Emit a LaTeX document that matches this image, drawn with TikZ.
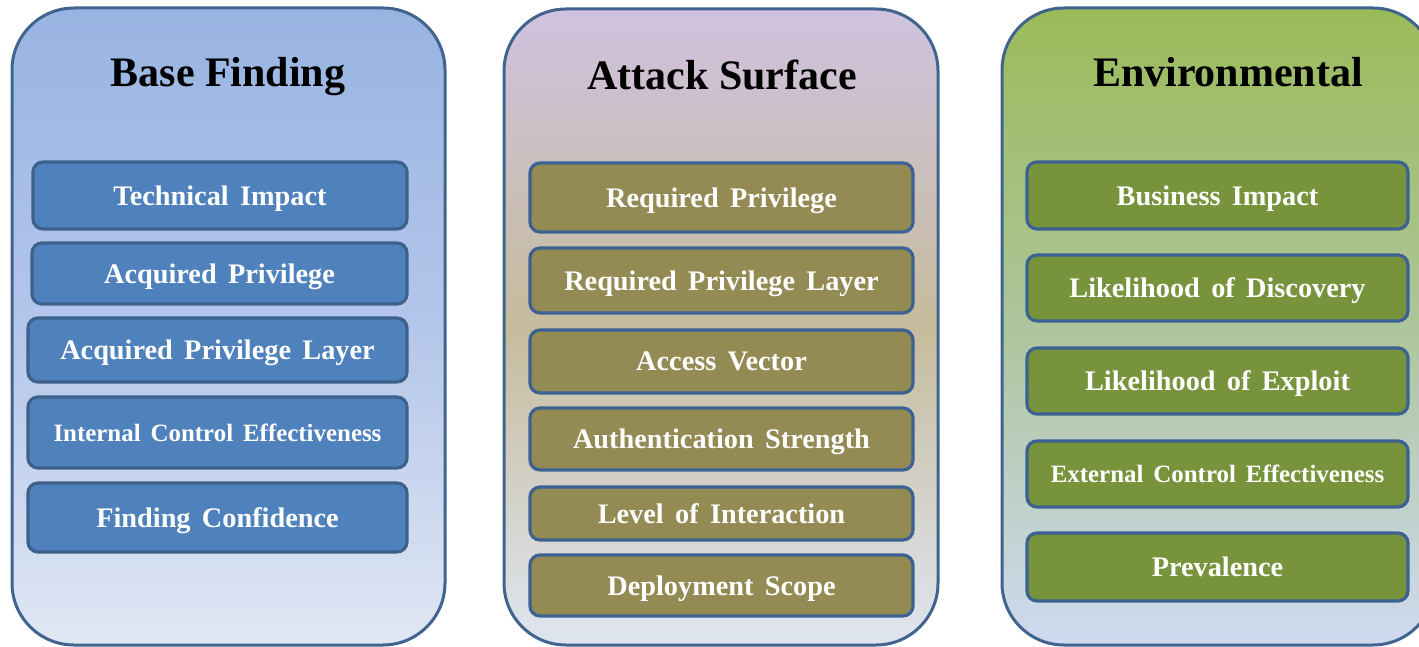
\documentclass[tikz,border=0pt]{standalone}
\usepackage{fontspec}
\setmainfont{Liberation Serif}
\newfontfamily\boxfont[WordSpace=1.6]{Liberation Serif}
\definecolor{panelborder}{HTML}{41648F}
\definecolor{boxborderA}{HTML}{3E618C}
\definecolor{boxborderB}{HTML}{3C6293}
\definecolor{boxfillA}{HTML}{4F81BD}
\definecolor{boxfillB}{HTML}{948A54}
\definecolor{boxfillC}{HTML}{77933C}
\definecolor{pAtop}{HTML}{98B4E2}
\definecolor{pAmid}{HTML}{B4C6EA}
\definecolor{pAbot}{HTML}{E0E7F4}
\definecolor{pBtop}{HTML}{CFC2DF}
\definecolor{pBmid}{HTML}{C6BC9C}
\definecolor{pBbot}{HTML}{DFE5F1}
\definecolor{pCtop}{HTML}{9BBB59}
\definecolor{pCmid}{HTML}{ADC59C}
\definecolor{pCbot}{HTML}{CFDAF0}
\tikzset{
  panel/.style={draw=panelborder, line width=3pt, rounded corners=62pt, inner sep=0pt},
  titletext/.style={font=\fontsize{42}{46}\selectfont\bfseries, text=black, inner sep=0pt, text depth=0pt},
  itembox/.style={line width=3.2pt, rounded corners=10pt, inner sep=0pt, text=white, text depth=0pt,
    font=\boxfont\fontsize{28.3}{32}\selectfont\bfseries},
  boxA/.style={itembox, draw=boxborderA, fill=boxfillA},
  boxB/.style={itembox, draw=boxborderB, fill=boxfillB},
  boxC/.style={itembox, draw=boxborderB, fill=boxfillC},
  smalltext/.style={font=\boxfont\fontsize{24.9}{28}\selectfont\bfseries},
}
\begin{document}
\begin{tikzpicture}[x=1pt, y=-1pt]
\useasboundingbox (0,0) rectangle (1419,647);
\clip (0,0) rectangle (1419,647);
% panels
\node[panel, top color=pAtop, bottom color=pAbot, middle color=pAmid,
  minimum width=433pt, minimum height=637pt] (p1) at (228.5,326.5) {};
\node[panel, top color=pBtop, bottom color=pBbot, middle color=pBmid,
  minimum width=434pt, minimum height=636pt] (p2) at (721,327) {};
\node[panel, top color=pCtop, bottom color=pCbot, middle color=pCmid,
  minimum width=433pt, minimum height=637pt] (p3) at (1218.5,326.5) {};
% titles
\node[titletext] (t1) at (228,72) {Base Finding};
\node[titletext] (t2) at (722,75) {Attack Surface};
\node[titletext] (t3) at (1228,72) {Environmental};
% panel 1
\node[boxA, minimum width=374pt, minimum height=67pt] (a1) at (220,195.5) {Technical Impact};
\node[boxA, minimum width=375pt, minimum height=61pt] (a2) at (219.5,273.5) {Acquired Privilege};
\node[boxA, minimum width=379pt, minimum height=64pt] (a3) at (217.5,350) {Acquired Privilege Layer};
\node[boxA, smalltext, minimum width=379pt, minimum height=71pt] (a4) at (217.5,432.5) {Internal Control Effectiveness};
\node[boxA, minimum width=379pt, minimum height=69pt] (a5) at (217.5,517.5) {Finding Confidence};
% panel 2
\node[boxB, minimum width=383pt, minimum height=69pt] (b1) at (721.5,197.5) {Required Privilege};
\node[boxB, minimum width=383pt, minimum height=65pt] (b2) at (721.5,280.5) {Required Privilege Layer};
\node[boxB, minimum width=383pt, minimum height=63pt] (b3) at (721.5,361.5) {Access Vector};
\node[boxB, minimum width=383pt, minimum height=62pt] (b4) at (721.5,439) {Authentication Strength};
\node[boxB, minimum width=383pt, minimum height=53pt] (b5) at (721.5,513.5) {Level of Interaction};
\node[boxB, minimum width=383pt, minimum height=61pt] (b6) at (721.5,585.5) {Deployment Scope};
% panel 3
\node[boxC, minimum width=381pt, minimum height=67pt] (c1) at (1217.5,195.5) {Business Impact};
\node[boxC, minimum width=381pt, minimum height=66pt] (c2) at (1217.5,288) {Likelihood of Discovery};
\node[boxC, minimum width=381pt, minimum height=66pt] (c3) at (1217.5,381) {Likelihood of Exploit};
\node[boxC, smalltext, minimum width=381pt, minimum height=66pt] (c4) at (1217.5,474) {External Control Effectiveness};
\node[boxC, minimum width=381pt, minimum height=68pt] (c5) at (1217.5,567) {Prevalence};
\end{tikzpicture}
\end{document}
